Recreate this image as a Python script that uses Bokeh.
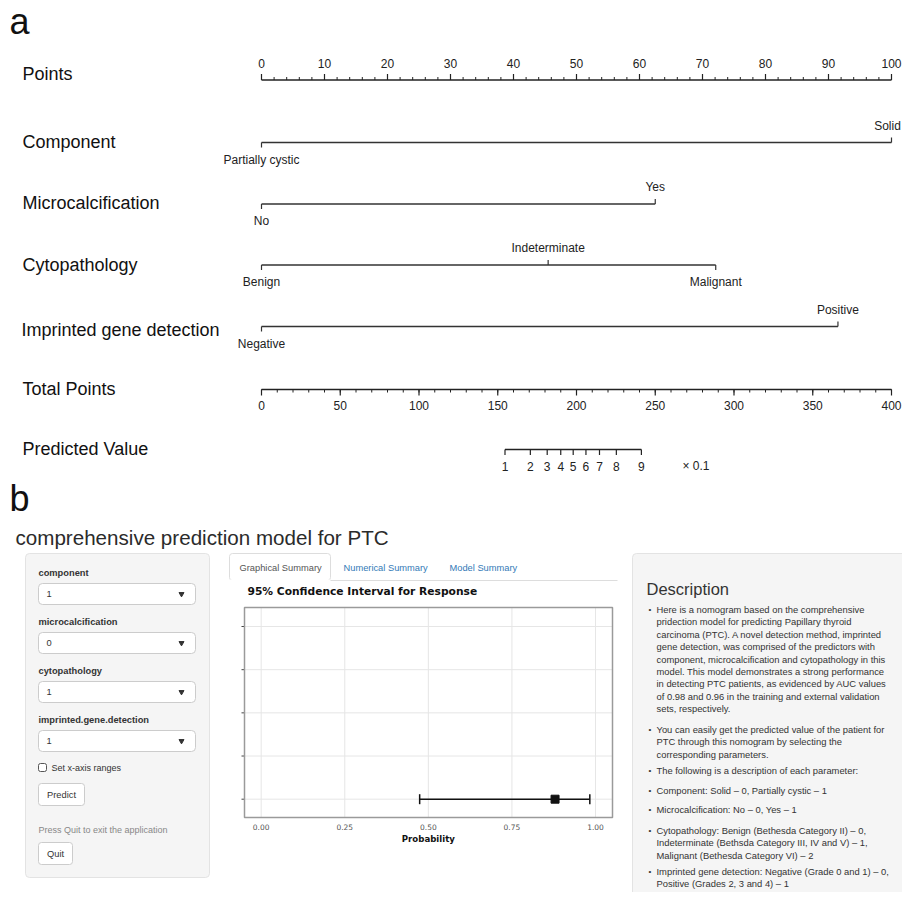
import math
from bokeh.plotting import figure
from bokeh.models import Range1d
from bokeh.core.properties import value
from bokeh.embed import file_html
from bokeh.resources import INLINE

# ---------------- nomogram data (panel a) ----------------
points_major = [0, 10, 20, 30, 40, 50, 60, 70, 80, 90, 100]
points_minor = list(range(0, 101, 2))

component_levels = ["Partially cystic", "Solid"]
component_points = [0, 100]
component_sides = ["below", "above"]

micro_levels = ["No", "Yes"]
micro_points = [0, 62.5]
micro_sides = ["below", "above"]

cyto_levels = ["Benign", "Indeterminate", "Malignant"]
cyto_points = [0, 45.5, 72.1]
cyto_sides = ["below", "above", "below"]

igd_levels = ["Negative", "Positive"]
igd_points = [0, 91.5]
igd_sides = ["below", "above"]

total_major = [0, 50, 100, 150, 200, 250, 300, 350, 400]
total_minor = list(range(0, 401, 10))

pred_labels = ["1", "2", "3", "4", "5", "6", "7", "8", "9"]
pred_total_points = [154.6, 170.7, 181.4, 190.0, 197.9, 206.0, 214.6, 225.3, 241.2]

# ---------------- shiny app data (panel b) ----------------
input_names = ["component", "microcalcification", "cytopathology", "imprinted.gene.detection"]
input_values = ["1", "0", "1", "1"]
tab_names = ["Graphical Summary", "Numerical Summary", "Model Summary"]

ci_estimate = 0.879
ci_lower = 0.474
ci_upper = 0.983
ci_level = 1
grid_levels = [1, 2, 3, 4, 5]
prob_ticks = [0.0, 0.25, 0.5, 0.75, 1.0]
prob_tick_labels = ["0.00", "0.25", "0.50", "0.75", "1.00"]

description_bullets = [
    ["Here is a nomogram based on the comprehensive",
     "pridection model for predicting Papillary thyroid",
     "carcinoma (PTC). A novel detection method, imprinted",
     "gene detection, was comprised of the predictors with",
     "component, microcalcification and cytopathology in this",
     "model. This model demonstrates a strong performance",
     "in detecting PTC patients, as evidenced by AUC values",
     "of 0.98 and 0.96 in the training and external validation",
     "sets, respectively."],
    ["You can easily get the predicted value of the patient for",
     "PTC through this nomogram by selecting the",
     "corresponding parameters."],
    ["The following is a description of each parameter:"],
    ["Component: Solid \u2013 0, Partially cystic \u2013 1"],
    ["Microcalcification: No \u2013 0, Yes \u2013 1"],
    ["Cytopathology: Benign (Bethesda Category II) \u2013 0,",
     "Indeterminate (Bethsda Category III, IV and V) \u2013 1,",
     "Malignant (Bethesda Category VI) \u2013 2"],
    ["Imprinted gene detection: Negative (Grade 0 and 1) \u2013 0,",
     "Positive (Grades 2, 3 and 4) \u2013 1"],
]

# ---------------- figure ----------------
W, H = 902, 892
X0, X1 = 0, W
Y0, Y1 = 0, H

p = figure(width=W, height=H, x_range=Range1d(X0, X1), y_range=Range1d(Y1, Y0),
           output_backend="svg", toolbar_location=None, min_border=0,
           x_axis_location=None, y_axis_location=None, outline_line_color=None)
p.grid.visible = False
p.background_fill_color = "white"
p.border_fill_color = "white"


def lin_range(v0, px0, v1, px1):
    k = (v1 - v0) / (px1 - px0)
    return Range1d(v0 - (px0 - X0) * k, v1 + (X1 - px1) * k)


def lin_range_y(v0, py0, v1, py1):
    k = (v1 - v0) / (py1 - py0)
    return Range1d(v0 + (Y1 - py0) * k, v0 + (Y0 - py0) * k)


NOMO_L, NOMO_R = 261, 891
p.extra_x_ranges = {
    "pts": lin_range(0, NOMO_L, 100, NOMO_R),
    "tot": lin_range(0, NOMO_L, 400, NOMO_R),
    "prob": lin_range(0, 260.7, 1, 595),
}
p.extra_y_ranges = {"lvl": lin_range_y(1, 798.7, 5, 626)}

SANS = "Liberation Sans"
INK = "#222222"


def txt(x, y, s, size, color=INK, font=SANS, align="left", baseline="middle",
        style="normal", xr="default", yr="default", x_offset=0):
    if not isinstance(x, list):
        x, y, s = [x], [y], [s]
    p.text(x=x, y=y, text=s, text_font=value(font), text_font_size=size,
           text_color=color, text_align=align, text_baseline=baseline,
           text_font_style=style, x_range_name=xr, y_range_name=yr, x_offset=x_offset)


# ================= panel a : nomogram =================
txt(9, 21, "a", "36px", color="#111")

row_labels = ["Points", "Component", "Microcalcification", "Cytopathology",
              "Imprinted gene detection", "Total Points", "Predicted Value"]
row_label_y = [73, 141, 202, 264, 329, 388, 448]
for lab, yy in zip(row_labels, row_label_y):
    txt(21 if lab.startswith("Imprinted") else 22, yy, lab, "18px", color="#111")

LW = 1.4
# Points scale
py = 79.5
p.segment(x0=[0], x1=[100], y0=[py], y1=[py], x_range_name="pts", line_color=INK, line_width=LW)
p.segment(x0=points_minor, x1=points_minor, y0=[py] * len(points_minor),
          y1=[py - 3] * len(points_minor), x_range_name="pts", line_color=INK, line_width=1)
p.segment(x0=points_major, x1=points_major, y0=[py] * len(points_major),
          y1=[py - 6] * len(points_major), x_range_name="pts", line_color=INK, line_width=1.2)
txt(points_major, [63] * len(points_major), [str(v) for v in points_major], "12px",
    align="center", xr="pts")

# predictor rows
rows = [
    (component_levels, component_points, component_sides, 142),
    (micro_levels, micro_points, micro_sides, 203.5),
    (cyto_levels, cyto_points, cyto_sides, 264.5),
    (igd_levels, igd_points, igd_sides, 326),
]
for levels, pts, sides, ly in rows:
    n = len(pts)
    p.segment(x0=[min(pts)], x1=[max(pts)], y0=[ly], y1=[ly], x_range_name="pts",
              line_color="#333333", line_width=1.6)
    p.segment(x0=pts, x1=pts, y0=[ly] * n,
              y1=[ly + 5 if s == "below" else ly - 5 for s in sides],
              x_range_name="pts", line_color="#333333", line_width=1.2)
    offs = [-4 if v >= 100 else 0 for v in pts]
    txt(pts, [ly + 17 if s == "below" else ly - 17 for s in sides], levels, "12px",
        align="center", xr="pts", x_offset=offs)

# Total points scale
ty = 389
p.segment(x0=[0], x1=[400], y0=[ty], y1=[ty], x_range_name="tot", line_color=INK, line_width=LW)
p.segment(x0=total_minor, x1=total_minor, y0=[ty] * len(total_minor),
          y1=[ty + 3] * len(total_minor), x_range_name="tot", line_color=INK, line_width=1)
p.segment(x0=total_major, x1=total_major, y0=[ty] * len(total_major),
          y1=[ty + 6] * len(total_major), x_range_name="tot", line_color=INK, line_width=1.2)
txt(total_major, [405] * len(total_major), [str(v) for v in total_major], "12px",
    align="center", xr="tot")

# Predicted value scale
vy = 449
p.segment(x0=[pred_total_points[0]], x1=[pred_total_points[-1]], y0=[vy], y1=[vy],
          x_range_name="tot", line_color=INK, line_width=LW)
p.segment(x0=pred_total_points, x1=pred_total_points, y0=[vy] * len(pred_labels),
          y1=[vy + 5.5] * len(pred_labels), x_range_name="tot", line_color=INK, line_width=1.2)
txt(pred_total_points, [466] * len(pred_labels), pred_labels, "12px", align="center", xr="tot")
txt(267.3, 465, "\u00d7 0.1", "12px", xr="tot")

# ================= panel b : shiny app =================
txt(9, 498, "b", "36px", color="#111")
txt(15, 537, "comprehensive prediction model for PTC", "20.6px", color="#2b2b2b")

# sidebar well
p.quad(left=[25], right=[209], top=[553], bottom=[877], fill_color="#f5f5f5",
       line_color="#e3e3e3", line_width=1, border_radius=4)
label_y = [572, 621, 670, 719]
for name, val, ly in zip(input_names, input_values, label_y):
    txt(38, ly, name, "9.3px", color="#333333", style="bold")
    p.quad(left=[38], right=[195], top=[ly + 11], bottom=[ly + 32], fill_color="white",
           line_color="#cccccc", line_width=1, border_radius=4)
    txt(46, ly + 21.5, val, "9.3px", color="#333333")
    p.scatter(x=[181], y=[ly + 21.5], marker="inverted_triangle", size=5,
              fill_color="#333333", line_color="#333333")

p.quad(left=[38], right=[46], top=[763], bottom=[771], fill_color="white",
       line_color="#555555", line_width=1, border_radius=2)
txt(51, 767, "Set x-axis ranges", "9px", color="#333333")
p.quad(left=[38], right=[84], top=[783], bottom=[805], fill_color="white",
       line_color="#cccccc", line_width=1, border_radius=3)
txt(61, 794, "Predict", "9.3px", color="#333333", align="center")
txt(38, 829, "Press Quit to exit the application", "9px", color="#888888")
p.quad(left=[38], right=[72], top=[842], bottom=[864], fill_color="white",
       line_color="#cccccc", line_width=1, border_radius=3)
txt(55, 853, "Quit", "9.3px", color="#333333", align="center")

# tabs
p.quad(left=[229], right=[330], top=[553], bottom=[580], fill_color="white",
       line_color="#dddddd", line_width=1, border_radius=3)
p.segment(x0=[229.5], x1=[329.5], y0=[580], y1=[580], line_color="white", line_width=2)
p.segment(x0=[330], x1=[617], y0=[580], y1=[580], line_color="#dddddd", line_width=1)
tab_x = [239, 343, 449]
tab_colors = ["#555555", "#337ab7", "#337ab7"]
for name, tx, tc in zip(tab_names, tab_x, tab_colors):
    txt(tx, 567, name, "9.3px", color=tc)

# CI plot
txt(247, 591, "95% Confidence Interval for Response", "10.7px", color="#111111",
    font="DejaVu Sans", style="bold")
p.segment(x0=prob_ticks, x1=prob_ticks, y0=[607] * 5, y1=[817] * 5, x_range_name="prob",
          line_color="#e6e6e6", line_width=1)
p.segment(x0=[244] * 5, x1=[612] * 5, y0=grid_levels, y1=grid_levels, y_range_name="lvl",
          line_color="#e6e6e6", line_width=1)
p.segment(x0=[241] * 5, x1=[244] * 5, y0=grid_levels, y1=grid_levels, y_range_name="lvl",
          line_color="#444444", line_width=1)
p.quad(left=[244], right=[612], top=[607], bottom=[817], fill_color=None,
       line_color="#9a9a9a", line_width=1.5)
p.segment(x0=[ci_lower], x1=[ci_upper], y0=[ci_level], y1=[ci_level], x_range_name="prob",
          y_range_name="lvl", line_color="#111111", line_width=1.5)
p.scatter(x=[ci_lower, ci_upper], y=[ci_level, ci_level], marker="dash", angle=math.pi / 2,
          size=10, line_color="#111111", line_width=1.5, x_range_name="prob", y_range_name="lvl")
p.scatter(x=[ci_estimate], y=[ci_level], marker="square", size=8, fill_color="#111111",
          line_color="#111111", x_range_name="prob", y_range_name="lvl")
txt(prob_ticks, [826] * 5, prob_tick_labels, "7.5px", color="#555555", font="DejaVu Sans",
    align="center", xr="prob")
txt(0.5, 838, "Probability", "8.6px", color="#111111", font="DejaVu Sans", style="bold",
    align="center", xr="prob")

# description well
p.quad(left=[632], right=[930], top=[553], bottom=[920], fill_color="#f5f5f5",
       line_color="#e3e3e3", line_width=1, border_radius=4)
txt(646, 588, "Description", "16.5px", color="#333333")
bullet_first_y = [609, 729, 770, 790, 809, 830, 871]
LINE = 12.4
for lines, y0 in zip(description_bullets, bullet_first_y):
    txt(648, y0, "\u2022", "8px", color="#333333")
    ys = [y0 + i * LINE for i in range(len(lines))]
    txt([656] * len(lines), ys, lines, "9.4px", color="#333333")

open("out.html", "w").write(file_html(p, INLINE))
